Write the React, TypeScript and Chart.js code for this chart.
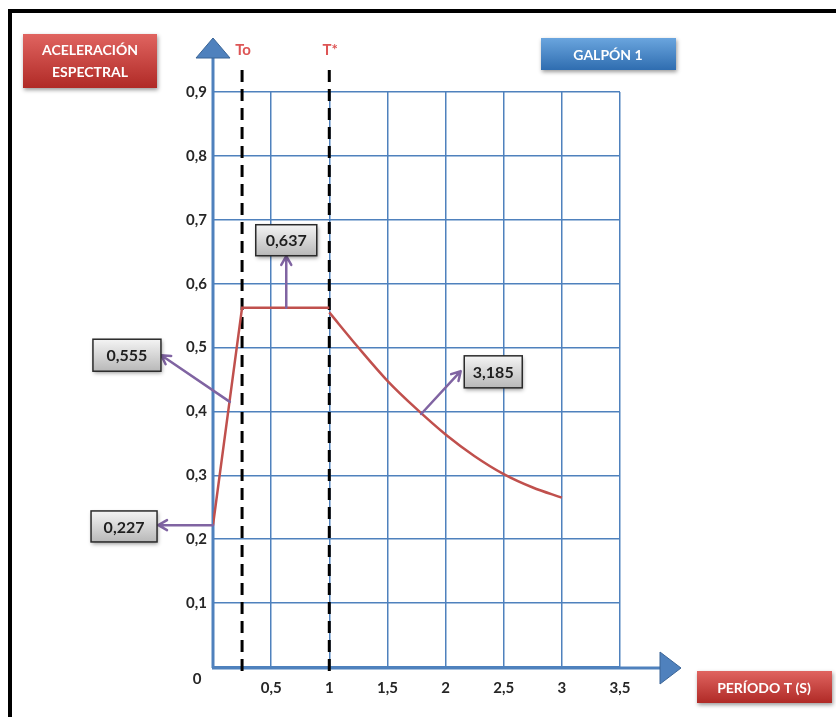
import React, { useEffect, useRef } from 'react';
import { Chart, registerables } from 'chart.js';

Chart.register(...registerables);

// ---- Data ----
const riseT = [0, 0.25, 1];
const riseSa = [0.222, 0.5625, 0.5625];
const decayT = [1, 1.25, 1.5, 1.75, 2, 2.25, 2.5, 2.75, 3];
const decaySa = [0.555, 0.5, 0.448, 0.404, 0.364, 0.33, 0.302, 0.281, 0.265];
const markerT = [0.25, 1];
const markerLabels = ['To', 'T*'];
const calloutLabels = ['0,227', '0,555', '0,637', '3,185'];
const yTitle = ['ACELERACIÓN', 'ESPECTRAL'];
const xTitle = 'PERÍODO T (S)';
const chartTitle = 'GALPÓN 1';

// callout geometry (data units): box centre, arrow tail, arrow head, box size
const calloutGeom = [
  { bx: -0.765, by: 0.22, w: 66, h: 31, fx: 0, fy: 0.222, tx: -0.47, ty: 0.222 },
  { bx: -0.74, by: 0.488, w: 68, h: 32, fx: 0.145, fy: 0.415, tx: -0.445, ty: 0.488 },
  { bx: 0.63, by: 0.668, w: 61, h: 31, fx: 0.63, fy: 0.5625, tx: 0.63, ty: 0.643 },
  { bx: 2.41, by: 0.462, w: 58, h: 32, fx: 1.79, fy: 0.396, tx: 2.13, ty: 0.463 },
];

const BLUE = '#4f81bd';
const RED = '#c0504d';
const PURPLE = '#8064a2';
const FONT = 'Lato, "Open Sans", sans-serif';

function fmtNum(v: number, dec: number) {
  return v.toFixed(dec).replace('.', ',');
}

function gradBox(
  ctx: CanvasRenderingContext2D,
  x: number,
  y: number,
  w: number,
  h: number,
  c1: string,
  c2: string,
  stroke: string | null,
) {
  ctx.save();
  ctx.shadowColor = 'rgba(0,0,0,0.4)';
  ctx.shadowBlur = 4;
  ctx.shadowOffsetX = 1;
  ctx.shadowOffsetY = 2;
  const g = ctx.createLinearGradient(0, y, 0, y + h);
  g.addColorStop(0, c1);
  g.addColorStop(1, c2);
  ctx.fillStyle = g;
  ctx.fillRect(x, y, w, h);
  ctx.restore();
  if (stroke) {
    ctx.save();
    ctx.strokeStyle = stroke;
    ctx.lineWidth = 1.5;
    ctx.strokeRect(x, y, w, h);
    ctx.restore();
  }
}

function arrow(ctx: CanvasRenderingContext2D, x1: number, y1: number, x2: number, y2: number) {
  ctx.save();
  ctx.strokeStyle = PURPLE;
  ctx.lineWidth = 2.5;
  ctx.lineCap = 'round';
  ctx.lineJoin = 'round';
  ctx.beginPath();
  ctx.moveTo(x1, y1);
  ctx.lineTo(x2, y2);
  const a = Math.atan2(y2 - y1, x2 - x1);
  const L = 10;
  const s = Math.PI / 6;
  ctx.moveTo(x2 - L * Math.cos(a - s), y2 - L * Math.sin(a - s));
  ctx.lineTo(x2, y2);
  ctx.lineTo(x2 - L * Math.cos(a + s), y2 - L * Math.sin(a + s));
  ctx.stroke();
  ctx.restore();
}

const decorPlugin = {
  id: 'decor',
  beforeDatasetsDraw(chart: any) {
    const ctx: CanvasRenderingContext2D = chart.ctx;
    const xs = chart.scales.x;
    const ys = chart.scales.y;
    const area = chart.chartArea;
    // axis lines
    ctx.save();
    ctx.strokeStyle = BLUE;
    ctx.lineWidth = 3;
    ctx.beginPath();
    ctx.moveTo(area.left, area.bottom + 1);
    ctx.lineTo(area.left, 58);
    ctx.moveTo(area.left - 1, area.bottom + 1);
    ctx.lineTo(662, area.bottom + 1);
    ctx.stroke();
    // arrow heads
    ctx.fillStyle = BLUE;
    ctx.strokeStyle = '#3a6496';
    ctx.lineWidth = 1;
    ctx.beginPath();
    ctx.moveTo(area.left - 17, 58);
    ctx.lineTo(area.left + 17, 58);
    ctx.lineTo(area.left, 38);
    ctx.closePath();
    ctx.fill();
    ctx.stroke();
    const ay = area.bottom + 1;
    ctx.beginPath();
    ctx.moveTo(660, ay - 16);
    ctx.lineTo(660, ay + 16);
    ctx.lineTo(681, ay);
    ctx.closePath();
    ctx.fill();
    ctx.stroke();
    ctx.restore();

    // dashed marker lines
    ctx.save();
    ctx.strokeStyle = '#000';
    ctx.lineWidth = 3;
    ctx.setLineDash([12, 7]);
    markerT.forEach((t) => {
      const px = xs.getPixelForValue(t);
      ctx.beginPath();
      ctx.moveTo(px, 70);
      ctx.lineTo(px, area.bottom + 4);
      ctx.stroke();
    });
    ctx.setLineDash([]);
    ctx.font = `bold 15px ${FONT}`;
    ctx.fillStyle = '#dd5555';
    ctx.textAlign = 'center';
    ctx.textBaseline = 'middle';
    markerT.forEach((t, i) => {
      const px = xs.getPixelForValue(t);
      ctx.fillText(markerLabels[i], px + 1, 50);
    });
    ctx.restore();

    // "0" origin label
    ctx.save();
    ctx.font = `bold 15px ${FONT}`;
    ctx.fillStyle = '#262626';
    ctx.textAlign = 'center';
    ctx.textBaseline = 'middle';
    ctx.fillText('0', area.left - 16, ys.getPixelForValue(0) + 12);
    ctx.restore();
  },
  afterDraw(chart: any) {
    const ctx: CanvasRenderingContext2D = chart.ctx;
    const xs = chart.scales.x;
    const ys = chart.scales.y;
    // callouts
    calloutGeom.forEach((g, i) => {
      const fx = xs.getPixelForValue(g.fx);
      const fy = ys.getPixelForValue(g.fy);
      const tx = xs.getPixelForValue(g.tx);
      const ty = ys.getPixelForValue(g.ty);
      arrow(ctx, fx, fy, tx, ty);
      const cx = xs.getPixelForValue(g.bx);
      const cy = ys.getPixelForValue(g.by);
      gradBox(ctx, cx - g.w / 2, cy - g.h / 2, g.w, g.h, '#f4f4f4', '#b8b8b8', '#2b2b2b');
      ctx.save();
      ctx.font = `bold 16px ${FONT}`;
      ctx.fillStyle = '#1e1e1e';
      ctx.textAlign = 'center';
      ctx.textBaseline = 'middle';
      ctx.fillText(calloutLabels[i], cx, cy + 1);
      ctx.restore();
    });

    // title boxes
    gradBox(ctx, 23, 34, 134, 54, '#e06460', '#b02a26', null);
    gradBox(ctx, 541, 38, 135, 32, '#6aa5de', '#2f6db0', null);
    gradBox(ctx, 697, 671, 135, 32, '#e06460', '#b02a26', null);
    ctx.save();
    ctx.fillStyle = '#ffffff';
    ctx.font = `bold 14px ${FONT}`;
    ctx.textAlign = 'center';
    ctx.textBaseline = 'middle';
    ctx.fillText(yTitle[0], 90, 50);
    ctx.fillText(yTitle[1], 90, 72);
    ctx.fillText(chartTitle, 608, 55);
    ctx.fillText(xTitle, 764, 688);
    ctx.restore();
  },
};

export default function App() {
  const ref = useRef<HTMLCanvasElement | null>(null);

  useEffect(() => {
    if (!ref.current) return;
    const chart = new Chart(ref.current, {
      type: 'line',
      data: {
        datasets: [
          {
            data: riseT.map((t, i) => ({ x: t, y: riseSa[i] })),
            borderColor: RED,
            borderWidth: 2.5,
            pointRadius: 0,
            tension: 0,
            fill: false,
          },
          {
            data: decayT.map((t, i) => ({ x: t, y: decaySa[i] })),
            borderColor: RED,
            borderWidth: 2.5,
            pointRadius: 0,
            cubicInterpolationMode: 'monotone',
            fill: false,
          },
        ],
      },
      options: {
        animation: false,
        responsive: false,
        layout: { padding: { left: 20, top: 92, right: 216, bottom: 0 } },
        plugins: { legend: { display: false }, tooltip: { enabled: false } },
        scales: {
          x: {
            type: 'linear',
            min: 0,
            max: 3.5,
            afterFit: (s: any) => {
              s.height = 50;
            },
            grid: { color: BLUE, lineWidth: 1.5, drawTicks: false },
            border: { display: false },
            ticks: {
              stepSize: 0.5,
              autoSkip: false,
              maxRotation: 0,
              padding: 12,
              color: '#262626',
              font: { family: FONT, size: 15, weight: 'bold' },
              callback: (v: any) => {
                const n = Number(v);
                if (n === 0) return '';
                return Number.isInteger(n) ? String(n) : fmtNum(n, 1);
              },
            },
          },
          y: {
            type: 'linear',
            min: 0,
            max: 0.9,
            afterFit: (s: any) => {
              s.width = 193;
            },
            grid: { color: BLUE, lineWidth: 1.5, drawTicks: false },
            border: { display: false },
            ticks: {
              stepSize: 0.1,
              padding: 6,
              color: '#262626',
              font: { family: FONT, size: 15, weight: 'bold' },
              callback: (v: any) => {
                const n = Number(v);
                if (Math.abs(n) < 1e-9) return '';
                return fmtNum(n, 1);
              },
            },
          },
        },
      },
      plugins: [decorPlugin],
    } as any);
    return () => chart.destroy();
  }, []);

  return (
    <div style={{ position: 'fixed', left: 0, top: 0, width: 836, height: 717, background: '#fff' }}>
      <div
        style={{
          position: 'absolute',
          left: 8,
          top: 9,
          width: 828,
          height: 708,
          borderTop: '4px solid #000',
          borderLeft: '4px solid #000',
          boxSizing: 'border-box',
        }}
      />
      <canvas ref={ref} width={836} height={717} style={{ position: 'absolute', left: 0, top: 0, display: 'block' }} />
    </div>
  );
}
